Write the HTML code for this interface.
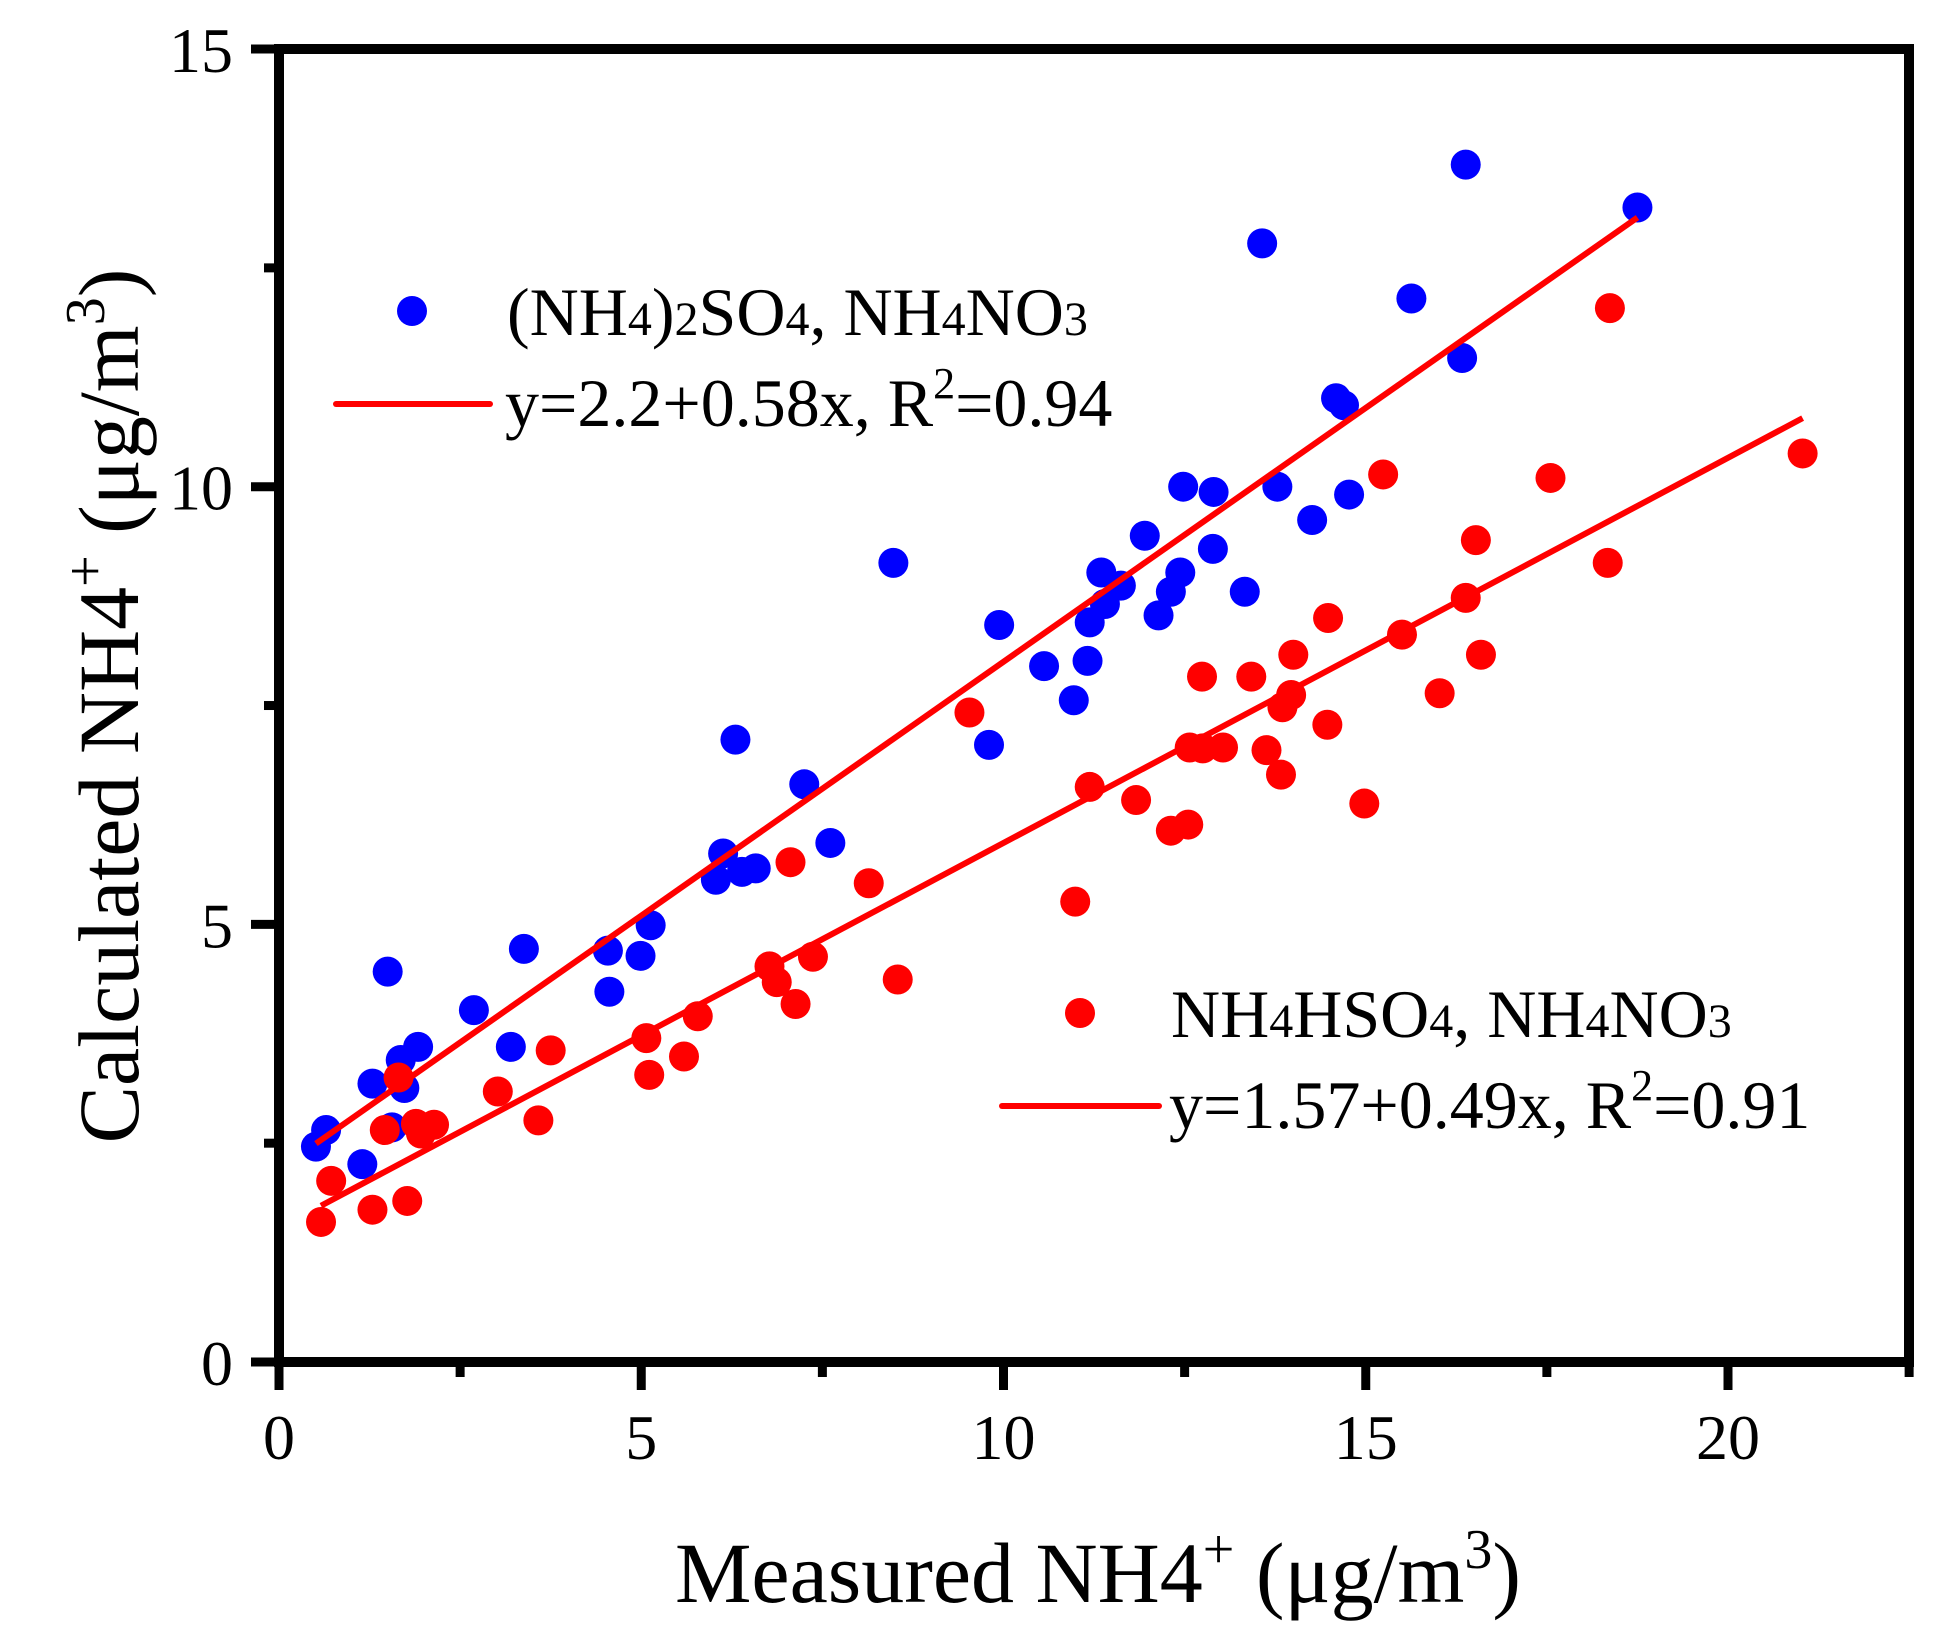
<!DOCTYPE html>
<html><head><meta charset="utf-8"><style>
html,body{margin:0;padding:0;background:#fff;}
svg{display:block;font-family:"Liberation Serif","Times New Roman",serif;}
</style></head><body>
<svg id="chart" width="1952" height="1639" viewBox="0 0 1952 1639" xmlns="http://www.w3.org/2000/svg">
<g id="plot"></g>
<g id="axes"></g>
<g>
<circle cx="412" cy="311" r="15" fill="#0000ff"/>
<text x="507" y="335" font-size="68">(NH<tspan font-size="48">4</tspan>)<tspan font-size="48">2</tspan>SO<tspan font-size="48">4</tspan>, NH<tspan font-size="48">4</tspan>NO<tspan font-size="48">3</tspan></text>
<line x1="336" y1="404" x2="490" y2="404" stroke="#ff0000" stroke-width="6" stroke-linecap="round"/>
<text x="505" y="426" font-size="68">y=2.2+0.58x, R<tspan font-size="44" dy="-28">2</tspan><tspan dy="28">=0.94</tspan></text>
</g>
<g>
<circle cx="1080" cy="1013" r="15" fill="#ff0000"/>
<text x="1171" y="1037" font-size="68">NH<tspan font-size="48">4</tspan>HSO<tspan font-size="48">4</tspan>, NH<tspan font-size="48">4</tspan>NO<tspan font-size="48">3</tspan></text>
<line x1="1002" y1="1106" x2="1159" y2="1106" stroke="#ff0000" stroke-width="6" stroke-linecap="round"/>
<text x="1169" y="1128" font-size="68">y=1.57+0.49x, R<tspan font-size="44" dy="-28">2</tspan><tspan dy="28">=0.91</tspan></text>
</g>
<text x="1098" y="1602" font-size="86" text-anchor="middle">Measured NH4<tspan font-size="56" dy="-34">+</tspan><tspan dy="34"> (μg/m</tspan><tspan font-size="56" dy="-34">3</tspan><tspan dy="34">)</tspan></text>
<text transform="translate(138,706) rotate(-90)" font-size="86" text-anchor="middle">Calculated NH4<tspan font-size="56" dy="-34">+</tspan><tspan dy="34"> (μg/m</tspan><tspan font-size="56" dy="-34">3</tspan><tspan dy="34">)</tspan></text>
</svg>
<script>
const xTicks = [0, 5, 10, 15, 20];
const yTicks = [0, 5, 10, 15];
const xMinor = [2.5, 7.5, 12.5, 17.5, 22.5];
const yMinor = [2.5, 7.5, 12.5];
const blueX = [0.51,0.65,1.15,1.29,1.5,1.56,1.68,1.73,1.92,2.69,3.2,3.38,4.54,4.56,4.99,5.13,6.03,6.13,6.3,6.39,6.58,7.25,7.61,8.48,9.8,9.94,10.56,10.97,11.16,11.19,11.35,11.4,11.62,11.95,12.14,12.31,12.44,12.48,12.89,12.9,13.33,13.57,13.78,14.26,14.59,14.7,14.77,15.63,16.33,16.38,18.75];
const blueY = [2.46,2.65,2.26,3.18,4.46,2.68,3.45,3.13,3.6,4.02,3.6,4.72,4.7,4.23,4.64,4.99,5.51,5.81,7.11,5.6,5.64,6.6,5.93,9.13,7.05,8.42,7.95,7.56,8.01,8.45,9.02,8.66,8.87,9.44,8.53,8.8,9.02,10.0,9.29,9.94,8.8,12.78,10.0,9.62,11.01,10.93,9.91,12.15,11.47,13.68,13.19];
const redX = [0.58,0.72,1.29,1.46,1.65,1.77,1.89,1.96,2.14,3.02,3.58,3.75,5.07,5.11,5.59,5.78,6.77,6.87,7.06,7.13,7.37,8.14,8.54,9.53,10.99,11.19,11.83,12.31,12.55,12.57,12.74,12.75,13.03,13.42,13.63,13.83,13.85,13.97,14.0,14.47,14.48,14.98,15.24,15.5,16.02,16.38,16.52,16.59,17.55,18.34,18.37,21.03];
const redY = [1.6,2.07,1.74,2.65,3.25,1.84,2.72,2.61,2.71,3.09,2.76,3.56,3.7,3.28,3.49,3.95,4.52,4.34,5.71,4.09,4.63,5.47,4.37,7.42,5.26,6.57,6.42,6.07,6.14,7.02,7.83,7.01,7.02,7.83,6.99,6.71,7.48,7.62,8.08,7.28,8.5,6.38,10.14,8.31,7.64,8.73,9.39,8.08,10.1,9.13,12.04,10.38];
const blueFit = [2.2, 0.58];
const redFit = [1.53, 0.44];
const blueRange = [0.51, 18.75];
const redRange = [0.58, 21.03];

const NS = 'http://www.w3.org/2000/svg';
const X0 = 279, XS = 72.45, Y0 = 1362, YS = 87.53;
function sx(v){ return X0 + v * XS; }
function sy(v){ return Y0 - v * YS; }
function mk(tag, attrs, parent){ const e = document.createElementNS(NS, tag); for (const k in attrs) e.setAttribute(k, attrs[k]); parent.appendChild(e); return e; }
const plot = document.getElementById('plot');
const axes = document.getElementById('axes');

blueX.forEach((x, i) => {
  const c = mk('circle', {cx: sx(x), cy: sy(blueY[i]), r: 15, fill: '#0000ff'}, plot);
  
  
});
redX.forEach((x, i) => {
  const c = mk('circle', {cx: sx(x), cy: sy(redY[i]), r: 15, fill: '#ff0000'}, plot);
  
  
});
function fitLine(fit, range, name){
  const l = mk('line', {x1: sx(range[0]), y1: sy(fit[0] + fit[1]*range[0]), x2: sx(range[1]), y2: sy(fit[0] + fit[1]*range[1]), stroke: '#ff0000', 'stroke-width': 6}, plot);
  
  
}
fitLine(blueFit, blueRange, 'blue-fit-line');
fitLine(redFit, redRange, 'red-fit-line');

const frame = mk('rect', {x: X0, y: 49, width: 1909 - X0, height: Y0 - 49, fill: 'none', stroke: '#000', 'stroke-width': 10}, axes);



xTicks.forEach(v => {
  const t = mk('line', {x1: sx(v), y1: Y0, x2: sx(v), y2: Y0 + 28, stroke: '#000', 'stroke-width': 9}, axes);
  
  
  const lb = mk('text', {x: sx(v), y: 1459, 'font-size': 64, 'text-anchor': 'middle'}, axes);
  lb.textContent = v;
  
  
});
xMinor.forEach(v => {
  const t = mk('line', {x1: sx(v), y1: Y0, x2: sx(v), y2: Y0 + 15, stroke: '#000', 'stroke-width': 9}, axes);
  
  
});
yTicks.forEach(v => {
  const t = mk('line', {x1: X0 - 28, y1: sy(v), x2: X0, y2: sy(v), stroke: '#000', 'stroke-width': 9}, axes);
  
  
  const lb = mk('text', {x: 233, y: sy(v) + 23, 'font-size': 64, 'text-anchor': 'end'}, axes);
  lb.textContent = v;
  
  
});
yMinor.forEach(v => {
  const t = mk('line', {x1: X0 - 15, y1: sy(v), x2: X0, y2: sy(v), stroke: '#000', 'stroke-width': 9}, axes);
  
  
});
</script>
</body></html>
